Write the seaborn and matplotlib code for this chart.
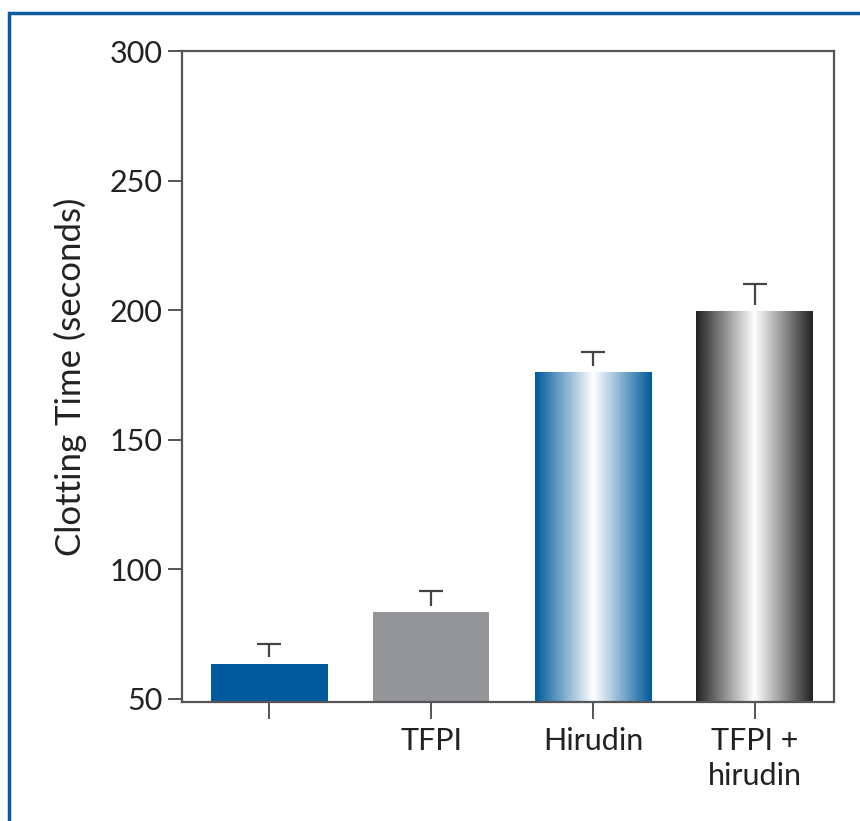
import numpy as np
import pandas as pd
import matplotlib
matplotlib.use("Agg")
import matplotlib.pyplot as plt
from matplotlib.colors import LinearSegmentedColormap
from matplotlib.patches import Rectangle
import seaborn as sns

# ========== DADOS ==========
grupos = ["", "TFPI", "Hirudin", "TFPI +\nhirudin"]
tempo_medio = [63.5, 83.5, 176, 199.5]
erro = [7.5, 8.0, 8.0, 10.5]
cores = ["#005A9C", "#949599", "#005A9C", "#222222"]
gradiente = [False, False, True, True]

df = pd.DataFrame({"Grupo": grupos, "Tempo": tempo_medio})

# ========== ESTILO ==========
sns.set_theme(style="white")
plt.rcParams["font.family"] = ["Lato", "DejaVu Sans"]

fig = plt.figure(figsize=(8.6, 8.21), dpi=100)
ax = fig.add_axes([182 / 860, 1 - 702 / 821, (834 - 182) / 860, (702 - 51) / 821])

sns.barplot(data=df, x="Grupo", y="Tempo", hue="Grupo", palette=cores,
            width=0.72, saturation=1, legend=False, ax=ax, errorbar=None)

ax.set_xlim(-0.54, 3.49)
ax.set_ylim(48.8, 300)
y_min = ax.get_ylim()[0]

# barras com gradiente (borda escura -> centro branco -> borda escura)
for bar, cor, grad in zip(ax.patches, cores, gradiente):
    bar.set_edgecolor("none")
    if not grad:
        continue
    cmap = LinearSegmentedColormap.from_list("g", [cor, "#ffffff", cor])
    x0, w = bar.get_x(), bar.get_width()
    topo = bar.get_y() + bar.get_height()
    ax.imshow(np.linspace(0, 1, 256).reshape(1, -1), cmap=cmap, aspect="auto",
              extent=[x0, x0 + w, y_min, topo], zorder=bar.get_zorder() + 0.1,
              interpolation="bicubic")

# barras de erro (só para cima)
for i, (m, e) in enumerate(zip(tempo_medio, erro)):
    ax.vlines(i, m + 2.5, m + e, color="#444444", lw=1.6, zorder=5)
    ax.hlines(m + e, i - 0.075, i + 0.075, color="#444444", lw=1.6, zorder=5)

ax.set_xlim(-0.54, 3.49)
ax.set_ylim(48.8, 300)
ax.set_yticks([50, 100, 150, 200, 250, 300])
ax.set_xlabel("")
ax.set_ylabel("Clotting Time (seconds)", fontsize=25, color="#222222", labelpad=16)

ax.tick_params(axis="y", direction="out", length=10, width=1.4, color="#555555",
               labelsize=22, labelcolor="#222222", left=True, pad=4)
ax.tick_params(axis="x", direction="out", length=12, width=1.4, color="#555555",
               labelsize=22, labelcolor="#222222", bottom=True, pad=6)
for lbl in ax.get_xticklabels():
    lbl.set_linespacing(1.3)
for s in ax.spines.values():
    s.set_color("#555555")
    s.set_linewidth(1.6)
    s.set_visible(True)

# moldura azul
fig.patches.append(Rectangle((9 / 860, -0.05), 1.2, 1 - 13.5 / 821 + 0.05,
                             transform=fig.transFigure, fill=False,
                             edgecolor="#0F5A9C", linewidth=2.5, zorder=0))

plt.savefig("out.png", dpi=100)
plt.close()
